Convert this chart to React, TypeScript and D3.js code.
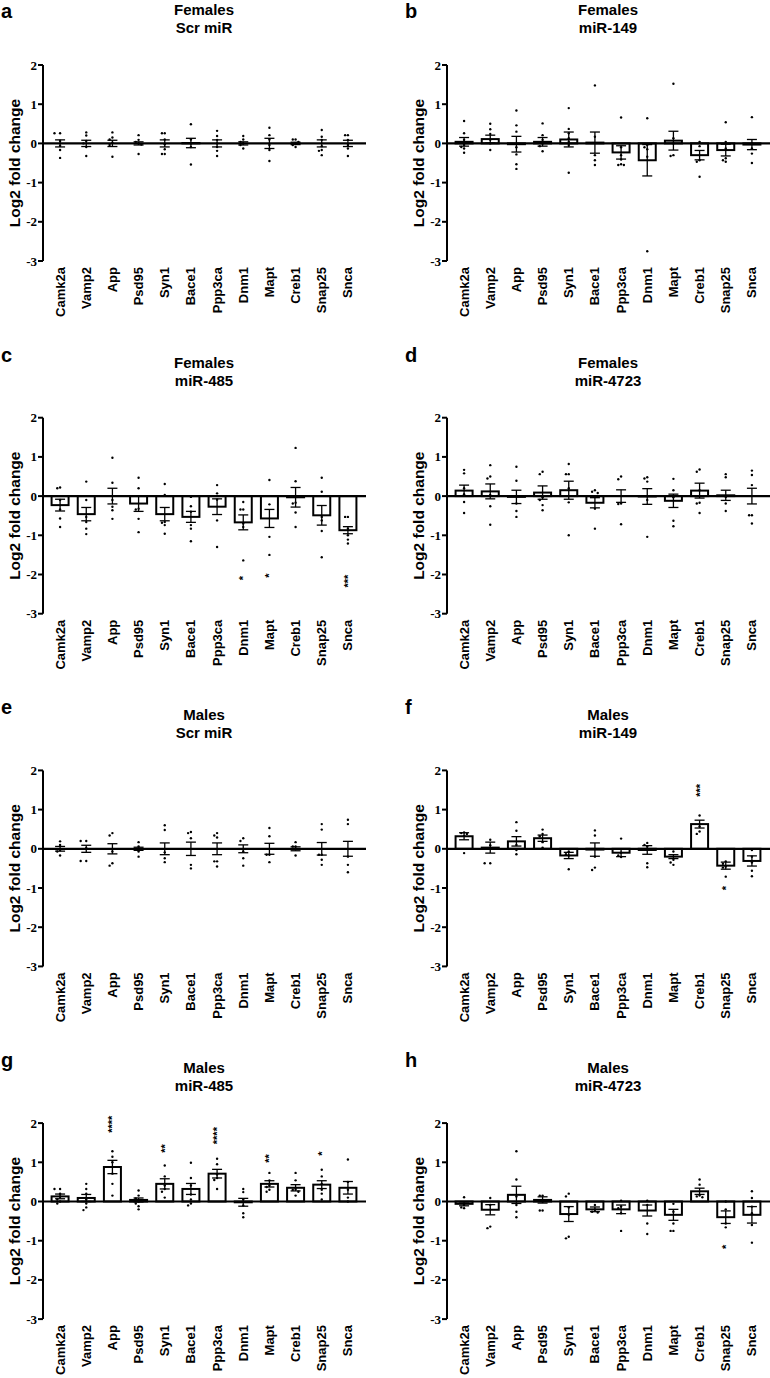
import React from 'react';
import * as d3 from 'd3';

const genes = ['Camk2a', 'Vamp2', 'App', 'Psd95', 'Syn1', 'Bace1', 'Ppp3ca', 'Dnm1', 'Mapt', 'Creb1', 'Snap25', 'Snca'];
const yTicks = [2, 1, 0, -1, -2, -3];

// a: Females Scr miR
const aMean = [0, 0, 0, 0, 0, 0.01, 0, 0, 0, 0, 0, 0];
const aSem = [0.09, 0.08, 0.08, 0.04, 0.09, 0.12, 0.09, 0.04, 0.13, 0.03, 0.09, 0.08];
const aDots = [
  [0.26, 0.26, 0.06, -0.06, -0.17, -0.37],
  [0.28, 0.2, 0.06, 0, -0.09, -0.32],
  [0.28, 0.15, 0.1, 0.02, -0.04, -0.34],
  [0.21, 0.09, 0.04, 0.0, -0.03, -0.27],
  [0.26, 0.26, 0.1, -0.02, -0.15, -0.27, -0.27],
  [0.49, 0.1, 0, -0.09, -0.54],
  [0.32, 0.19, 0.09, 0, -0.09, -0.19, -0.32],
  [0.19, 0.1, 0.04, 0, -0.04, -0.13],
  [0.4, 0.21, 0.1, -0.04, -0.17, -0.45],
  [0.1, 0.1, 0.04, 0, -0.04, -0.09],
  [0.34, 0.17, 0.09, -0.07, -0.17, -0.19, -0.3],
  [0.21, 0.21, 0.09, -0.04, -0.13, -0.32],
];
const aStars: [string, string, number][] = [];

// b: Females miR-149
const bMean = [0.04, 0.11, -0.02, 0.04, 0.1, 0.02, -0.23, -0.43, 0.07, -0.3, -0.17, -0.03];
const bSem = [0.11, 0.1, 0.2, 0.11, 0.19, 0.27, 0.17, 0.4, 0.24, 0.12, 0.15, 0.13];
const bDots = [
  [0.57, 0.26, 0.09, -0.04, -0.09, -0.13, -0.24],
  [0.5, 0.36, 0.24, 0.09, 0, -0.17],
  [0.84, 0.46, 0.3, -0.1, -0.28, -0.53, -0.65],
  [0.51, 0.21, 0.09, 0, -0.07, -0.2],
  [0.9, 0.37, 0.26, 0.13, 0.04, -0.04, -0.75],
  [1.48, 0.17, -0.3, -0.43, -0.55],
  [0.66, -0.1, -0.3, -0.41, -0.53, -0.55, -0.55],
  [0.64, -0.04, -0.1, -0.15, -0.34, -2.75],
  [1.52, 0.13, 0, -0.3, -0.32],
  [0.04, -0.07, -0.43, -0.47, -0.85],
  [0.54, 0.04, -0.13, -0.38, -0.43, -0.47],
  [0.67, 0, -0.13, -0.26, -0.5],
];
const bStars: [string, string, number][] = [];

// c: Females miR-485
const cMean = [-0.23, -0.46, 0.0, -0.19, -0.46, -0.53, -0.27, -0.67, -0.57, -0.03, -0.49, -0.87];
const cSem = [0.15, 0.17, 0.2, 0.2, 0.17, 0.14, 0.2, 0.19, 0.23, 0.25, 0.25, 0.09];
const cDots = [
  [0.22, 0.2, -0.1, -0.34, -0.57, -0.79],
  [0.37, -0.1, -0.53, -0.66, -0.83, -0.97],
  [0.98, 0.34, -0.1, -0.27, -0.36, -0.58],
  [0.47, 0.2, 0, -0.32, -0.34, -0.58, -0.92],
  [0.31, 0.03, -0.66, -0.68, -0.74, -0.96],
  [-0.02, -0.26, -0.4, -0.74, -0.83, -1.15],
  [0.28, 0.07, -0.09, -0.62, -1.3],
  [-0.15, -0.34, -0.34, -0.7, -0.79, -1.64],
  [0.41, -0.21, -1.04, -1.5],
  [1.23, 0.38, -0.17, -0.19, -0.42, -0.79],
  [0.47, 0.11, -0.53, -0.62, -0.89, -1.56],
  [-0.53, -0.53, -0.83, -1.0, -1.11, -1.21],
];
const cStars: [string, string, number][] = [['Dnm1', '*', -2.09], ['Mapt', '*', -2.03], ['Snca', '***', -2.17]];

// d: Females miR-4723
const dMean = [0.14, 0.12, -0.02, 0.09, 0.15, -0.17, 0.0, -0.01, -0.12, 0.14, 0.02, 0.0];
const dSem = [0.14, 0.19, 0.17, 0.17, 0.23, 0.13, 0.16, 0.2, 0.17, 0.19, 0.13, 0.2];
const dDots = [
  [0.67, 0.58, 0.2, 0.05, -0.15, -0.43],
  [0.79, 0.5, 0.45, 0.03, -0.26, -0.73],
  [0.75, 0.39, -0.19, -0.38, -0.53],
  [0.62, 0.56, -0.03, -0.1, -0.23, -0.36],
  [0.82, 0.56, 0.56, 0.2, -0.16, -1.0],
  [0.15, 0.11, 0.08, -0.32, -0.83],
  [0.5, 0.43, -0.19, -0.2, -0.72],
  [0.48, 0.45, 0.37, -0.1, -1.04],
  [0.44, 0.15, -0.03, -0.63, -0.77],
  [0.68, 0.62, 0.15, -0.17, -0.19, -0.43],
  [0.56, 0.48, -0.02, -0.19, -0.38],
  [0.65, 0.54, 0.28, -0.49, -0.49, -0.7],
];
const dStars: [string, string, number][] = [];

// e: Males Scr miR
const eMean = [0, 0, 0, 0, 0, 0, 0, 0, 0, 0, 0, 0];
const eSem = [0.06, 0.09, 0.13, 0.04, 0.15, 0.17, 0.15, 0.1, 0.14, 0.05, 0.16, 0.19];
const eDots = [
  [0.19, 0.1, -0.03, -0.07, -0.17],
  [0.2, 0.2, 0.02, -0.31, -0.31],
  [0.4, 0.34, -0.07, -0.37, -0.43],
  [0.17, 0.06, -0.07, -0.2],
  [0.6, 0.48, -0.09, -0.24, -0.34],
  [0.43, 0.4, 0.27, -0.41, -0.5],
  [0.4, 0.34, 0.29, -0.32, -0.32, -0.45],
  [0.27, 0.2, -0.07, -0.24, -0.43],
  [0.53, 0.32, -0.15, -0.15, -0.34],
  [0.17, 0.06, 0.06, -0.17],
  [0.63, 0.49, -0.15, -0.15, -0.28, -0.41],
  [0.74, 0.63, -0.2, -0.41, -0.6],
];
const eStars: [string, string, number][] = [];

// f: Males miR-149
const fMean = [0.32, 0.03, 0.19, 0.27, -0.17, -0.02, -0.1, -0.03, -0.2, 0.63, -0.43, -0.31];
const fSem = [0.09, 0.14, 0.12, 0.08, 0.08, 0.17, 0.1, 0.11, 0.05, 0.1, 0.09, 0.13];
const fDots = [
  [0.42, 0.4, 0.38, 0.33, -0.11],
  [0.23, 0.09, -0.37, -0.37],
  [0.68, 0.46, 0.1, -0.03, -0.14],
  [0.49, 0.38, 0.32, 0.17, 0.03],
  [-0.07, -0.14, -0.17, -0.52],
  [0.47, 0.34, -0.2, -0.48, -0.54],
  [0.26, -0.1, -0.17, -0.21],
  [0.15, 0.1, 0.06, -0.37, -0.47],
  [-0.07, -0.28, -0.35, -0.41],
  [0.85, 0.57, 0.44, 0.38],
  [-0.32, -0.38, -0.45, -0.48, -0.71],
  [-0.03, -0.2, -0.35, -0.56, -0.7],
];
const fStars: [string, string, number][] = [['Creb1', '***', 1.49], ['Snap25', '*', -1.0]];

// g: Males miR-485
const gMean = [0.13, 0.09, 0.88, 0.04, 0.45, 0.32, 0.71, -0.02, 0.45, 0.35, 0.43, 0.35];
const gSem = [0.06, 0.09, 0.17, 0.05, 0.13, 0.14, 0.11, 0.1, 0.08, 0.08, 0.1, 0.16];
const gDots = [
  [0.32, 0.32, 0.2, 0.12, 0.05, 0.0, -0.05],
  [0.45, 0.32, 0.2, 0.05, -0.05, -0.15, -0.22],
  [1.28, 1.14, 1.0, 0.71, 0.45, 0.15],
  [0.28, 0.15, 0.08, 0.0, -0.05, -0.12, -0.2],
  [0.92, 0.64, 0.41, 0.32, 0.25, 0.1],
  [0.99, 0.6, 0.41, 0.18, 0.05, -0.05, -0.1],
  [1.09, 0.95, 0.69, 0.6, 0.55, 0.32],
  [0.32, 0.24, 0.05, -0.1, -0.3, -0.4],
  [0.73, 0.54, 0.41, 0.37, 0.3, 0.25],
  [0.73, 0.54, 0.32, 0.3, 0.25, 0.15],
  [0.81, 0.64, 0.45, 0.3, 0.2, 0.05],
  [1.07, 0.5, 0.3, 0.1, 0.0],
];
const gStars: [string, string, number][] = [['App', '****', 1.97], ['Syn1', '**', 1.35], ['Ppp3ca', '****', 1.68], ['Mapt', '**', 1.1], ['Snap25', '*', 1.22]];

// h: Males miR-4723
const hMean = [-0.06, -0.21, 0.17, 0.04, -0.32, -0.2, -0.2, -0.23, -0.34, 0.26, -0.4, -0.34];
const hSem = [0.05, 0.13, 0.22, 0.08, 0.19, 0.06, 0.11, 0.14, 0.14, 0.08, 0.16, 0.21];
const hDots = [
  [0.11, -0.09, -0.15, -0.17],
  [0.09, -0.09, -0.64, -0.68],
  [1.28, 0.56, 0.13, -0.09, -0.26, -0.4],
  [0.15, 0.15, 0, -0.23, -0.23],
  [0.2, 0.13, -0.15, -0.34, -0.9, -0.94],
  [-0.09, -0.21, -0.26, -0.28],
  [0.02, -0.13, -0.17, -0.3, -0.75],
  [0.02, -0.09, -0.56, -0.83],
  [-0.06, -0.26, -0.56, -0.75, -0.75],
  [0.56, 0.43, 0.15, 0.13, 0.11],
  [0, -0.2, -0.56, -0.66],
  [0.26, 0.09, -0.13, -0.3, -0.6, -1.05],
];
const hStars: [string, string, number][] = [['Snap25', '*', -1.16]];

const panels = [
  { letter: 'a', sex: 'Females', mir: 'Scr miR', mean: aMean, sem: aSem, dots: aDots, stars: aStars },
  { letter: 'b', sex: 'Females', mir: 'miR-149', mean: bMean, sem: bSem, dots: bDots, stars: bStars },
  { letter: 'c', sex: 'Females', mir: 'miR-485', mean: cMean, sem: cSem, dots: cDots, stars: cStars },
  { letter: 'd', sex: 'Females', mir: 'miR-4723', mean: dMean, sem: dSem, dots: dDots, stars: dStars },
  { letter: 'e', sex: 'Males', mir: 'Scr miR', mean: eMean, sem: eSem, dots: eDots, stars: eStars },
  { letter: 'f', sex: 'Males', mir: 'miR-149', mean: fMean, sem: fSem, dots: fDots, stars: fStars },
  { letter: 'g', sex: 'Males', mir: 'miR-485', mean: gMean, sem: gSem, dots: gDots, stars: gStars },
  { letter: 'h', sex: 'Males', mir: 'miR-4723', mean: hMean, sem: hSem, dots: hDots, stars: hStars },
];

const SANS = "'Liberation Sans', Arial, sans-serif";
const SERIF = "'Liberation Serif', 'Times New Roman', serif";

const COL_W = 404;
const ROW_H = 352.7;

function swarm(vals: number[], y: (v: number) => number, cx: number) {
  const placed: { x: number; y: number }[] = [];
  const sorted = [...vals].sort((p, q) => q - p);
  const d = 2.8;
  for (const v of sorted) {
    const py = y(v);
    const cands = [0, -d, d, -2 * d, 2 * d, -3 * d, 3 * d];
    let chosen = cx;
    for (const o of cands) {
      const px = cx + o;
      if (placed.every((p) => Math.hypot(p.x - px, p.y - py) >= d)) {
        chosen = px;
        break;
      }
    }
    placed.push({ x: chosen, y: py });
  }
  return placed;
}

function Panel({ p, idx }: { p: (typeof panels)[number]; idx: number }) {
  const col = idx % 2;
  const row = Math.floor(idx / 2);
  const ox = col * COL_W;
  const oy = row * ROW_H;
  const y = d3.scaleLinear().domain([-3, 2]).range([261, 65]);
  const x = d3.scaleBand<string>().domain(genes).range([47, 361]).paddingInner(0.35).paddingOuter(0.175);
  const bw = x.bandwidth();
  const axisX = 43;
  const y0 = y(0);
  const letterY = row === 0 ? 18 : 9;
  return (
    <g transform={`translate(${ox},${oy})`}>
      <text x={1} y={letterY} fontFamily={SANS} fontWeight="bold" fontSize={20}>{p.letter}</text>
      <text x={204} y={15} textAnchor="middle" fontFamily={SANS} fontWeight="bold" fontSize={15}>{p.sex}</text>
      <text x={204} y={33} textAnchor="middle" fontFamily={SANS} fontWeight="bold" fontSize={15}>{p.mir}</text>
      <text transform={`translate(${axisX - 28.5},${(y(2) + y(-3)) / 2}) rotate(-90)`} textAnchor="middle" dominantBaseline="central" fontFamily={SANS} fontWeight="bold" fontSize={15.5}>Log2 fold change</text>
      {/* y axis */}
      <line x1={axisX} x2={axisX} y1={y(2)} y2={y(-3)} stroke="#000" strokeWidth={2} />
      {yTicks.map((t) => (
        <g key={t}>
          <line x1={axisX - 5} x2={axisX} y1={y(t)} y2={y(t)} stroke="#000" strokeWidth={2} />
          <text x={axisX - 6} y={y(t)} dy="0.35em" textAnchor="end" fontFamily={SERIF} fontWeight="bold" fontSize={13}>{t}</text>
        </g>
      ))}
      {/* bars */}
      {genes.map((g, i) => {
        const m = p.mean[i];
        const top = Math.min(y(m), y0);
        const h = Math.abs(y(m) - y0);
        return <rect key={g} x={x(g)} y={top} width={bw} height={h} fill="#fff" stroke="#000" strokeWidth={2} />;
      })}
      {/* zero line */}
      <line x1={axisX} x2={366} y1={y0} y2={y0} stroke="#000" strokeWidth={2.2} />
      {/* error bars */}
      {genes.map((g, i) => {
        const cx = (x(g) as number) + bw / 2;
        const hi = y(p.mean[i] + p.sem[i]);
        const lo = y(p.mean[i] - p.sem[i]);
        return (
          <g key={g} stroke="#000" strokeWidth={1.3}>
            <line x1={cx} x2={cx} y1={hi} y2={lo} />
            <line x1={cx - 5} x2={cx + 5} y1={hi} y2={hi} />
            <line x1={cx - 5} x2={cx + 5} y1={lo} y2={lo} />
          </g>
        );
      })}
      {/* dots */}
      {genes.map((g, i) => {
        const cx = (x(g) as number) + bw / 2;
        return swarm(p.dots[i], y, cx).map((pt, j) => (
          <circle key={`${g}-${j}`} cx={pt.x} cy={pt.y} r={1.2} fill="#000" />
        ));
      })}
      {/* significance */}
      {p.stars.map(([g, s, v]) => {
        const cx = (x(g) as number) + bw / 2;
        return (
          <text key={g} transform={`translate(${cx},${y(v)}) rotate(-90)`} textAnchor="middle" dominantBaseline="central" fontFamily={SANS} fontWeight="bold" fontSize={11}>{s}</text>
        );
      })}
      {/* category labels */}
      {genes.map((g) => {
        const cx = (x(g) as number) + bw / 2;
        return (
          <text key={g} transform={`translate(${cx},267) rotate(-90)`} textAnchor="end" dominantBaseline="central" fontFamily={SANS} fontWeight="bold" fontSize={13}>{g}</text>
        );
      })}
    </g>
  );
}

export default function App() {
  return (
    <svg width={770} height={1378} style={{ position: 'absolute', left: 0, top: 0, background: '#fff' }}>
      <rect width={770} height={1378} fill="#fff" />
      {panels.map((p, i) => (
        <Panel key={p.letter} p={p} idx={i} />
      ))}
    </svg>
  );
}
